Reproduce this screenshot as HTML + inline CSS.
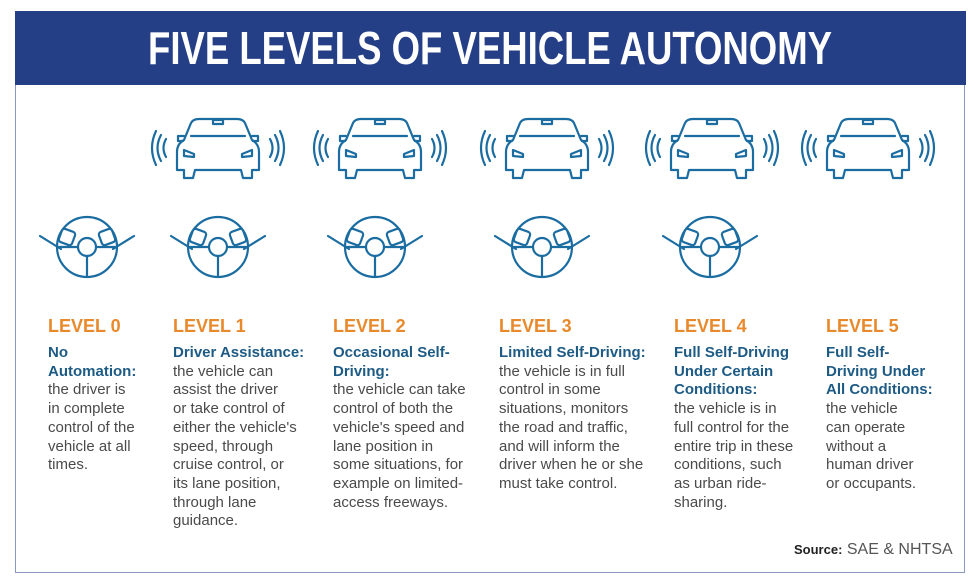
<!DOCTYPE html>
<html><head><style>
body{margin:0;width:980px;height:585px;background:#fff;position:relative;overflow:hidden;font-family:"Liberation Sans",sans-serif}
.frame{position:absolute;left:15px;top:11px;width:950px;height:562px;border:1.5px solid #8a98c0;box-sizing:border-box}
.hdr{position:absolute;left:15px;top:11px;width:951px;height:74px;background:#253f87}
.col{position:absolute;top:316px;font-size:15px;line-height:18.7px;color:#4a4a4a;white-space:nowrap}
.lv{color:#e8892b;font-weight:bold;font-size:18px;height:28px;line-height:20px;font-family:"Liberation Sans Narrow","Liberation Sans",sans-serif}
.b{color:#1d5b85;font-weight:bold}
.src{position:absolute;left:794px;top:541px;font-size:16px;color:#555}
.src b{color:#222;font-size:13px}
</style></head><body>
<div class="frame"></div>
<div class="hdr"></div>
<svg width="980" height="585" style="position:absolute;left:0;top:0">
<text x="490" y="64" text-anchor="middle" textLength="684" lengthAdjust="spacingAndGlyphs" fill="#fff" font-family="Liberation Sans Narrow, Liberation Sans, sans-serif" font-weight="bold" font-size="46">FIVE LEVELS OF VEHICLE AUTONOMY</text>
<defs>
<g id="car" fill="none" stroke="#1b6da1" stroke-width="2.2" stroke-linejoin="round" stroke-linecap="round">
<path d="M-34,-8 L-27,-25 Q-25,-29 -19,-29 L19,-29 Q25,-29 27,-25 L34,-8 Q41,-4 41,4 L41,22 L34,22 L34,30 L25,30 L23,22 L-23,22 L-25,30 L-34,30 L-34,22 L-41,22 L-41,4 Q-41,-4 -34,-8 Z"/>
<path d="M-27,-12 L27,-12"/>
<rect x="-5" y="-28" width="10" height="4"/>
<path d="M-34,-12 L-40,-12 L-40,-7 L-35,-7"/><path d="M34,-12 L40,-12 L40,-7 L35,-7"/>
<path d="M-34,2 L-24,6 L-24,9 L-34,8 Z"/><path d="M34,2 L24,6 L24,9 L34,8 Z"/>
<path d="M-52,-9 Q-57,0 -52,9"/><path d="M-57,-13 Q-64,0 -57,13"/><path d="M-62,-17 Q-70,0 -62,17"/>
<path d="M52,-9 Q57,0 52,9"/><path d="M57,-13 Q64,0 57,13"/><path d="M62,-17 Q70,0 62,17"/>
</g>
<g id="wh" fill="none" stroke="#1b6da1" stroke-width="2.2" stroke-linejoin="round" stroke-linecap="round">
<circle r="30"/><circle r="9"/>
<path d="M-28,0 L-9,0 M9,0 L28,0 M0,9 L0,29"/>
<path d="M-47,-11 L-26,2"/><path d="M47,-11 L26,2"/>
<rect x="-27" y="-17" width="14" height="14" rx="3" transform="rotate(20 -20 -10)" fill="#fff"/>
<rect x="13" y="-17" width="14" height="14" rx="3" transform="rotate(-20 20 -10)" fill="#fff"/>
</g>
</defs>
<use href="#car" x="218" y="148"/><use href="#car" x="380" y="148"/><use href="#car" x="547" y="148"/><use href="#car" x="712" y="148"/><use href="#car" x="868" y="148"/>
<use href="#wh" x="87" y="247"/><use href="#wh" x="218" y="247"/><use href="#wh" x="375" y="247"/><use href="#wh" x="542" y="247"/><use href="#wh" x="710" y="247"/>
</svg>
<div class="col" style="left:48px"><div class="lv">LEVEL 0</div><span class="b">No<br>Automation:</span><br>the driver is<br>in complete<br>control of the<br>vehicle at all<br>times.</div>
<div class="col" style="left:173px"><div class="lv">LEVEL 1</div><span class="b">Driver Assistance:</span><br>the vehicle can<br>assist the driver<br>or take control of<br>either the vehicle's<br>speed, through<br>cruise control, or<br>its lane position,<br>through lane<br>guidance.</div>
<div class="col" style="left:333px"><div class="lv">LEVEL 2</div><span class="b">Occasional Self-<br>Driving:</span><br>the vehicle can take<br>control of both the<br>vehicle's speed and<br>lane position in<br>some situations, for<br>example on limited-<br>access freeways.</div>
<div class="col" style="left:499px"><div class="lv">LEVEL 3</div><span class="b">Limited Self-Driving:</span><br>the vehicle is in full<br>control in some<br>situations, monitors<br>the road and traffic,<br>and will inform the<br>driver when he or she<br>must take control.</div>
<div class="col" style="left:674px"><div class="lv">LEVEL 4</div><span class="b">Full Self-Driving<br>Under Certain<br>Conditions:</span><br>the vehicle is in<br>full control for the<br>entire trip in these<br>conditions, such<br>as urban ride-<br>sharing.</div>
<div class="col" style="left:826px"><div class="lv">LEVEL 5</div><span class="b">Full Self-<br>Driving Under<br>All Conditions:</span><br>the vehicle<br>can operate<br>without a<br>human driver<br>or occupants.</div>
<div class="src"><b>Source:</b> SAE &amp; NHTSA</div>
</body></html>
